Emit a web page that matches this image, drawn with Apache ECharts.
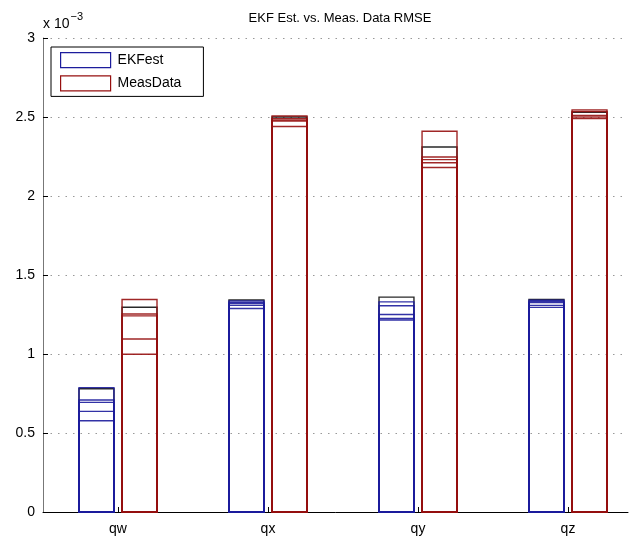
<!DOCTYPE html>
<html>
<head>
<meta charset="utf-8">
<script src="https://cdn.jsdelivr.net/npm/echarts@6/dist/echarts.min.js"></script>
<style>
  html, body { margin: 0; padding: 0; background: #fff; }
  #main { width: 638px; height: 540px; }
</style>
</head>
<body>
<div id="main"></div>
<script>
// values in units of 1e-3, one inner array per category (several runs overlaid)
const categories = ["qw", "qx", "qy", "qz"];
const ekfEst = [
  [0.78, 0.787, 0.709, 0.694, 0.637, 0.578],
  [1.342, 1.336, 1.328, 1.32, 1.308, 1.288],
  [1.36, 1.33, 1.305, 1.25, 1.225, 1.215],
  [1.345, 1.34, 1.333, 1.325, 1.308, 1.295],
];
const measData = [
  [1.296, 1.345, 1.253, 1.241, 1.095, 0.998],
  [2.5, 2.506, 2.489, 2.48, 2.475, 2.44],
  [2.31, 2.41, 2.247, 2.23, 2.21, 2.18],
  [2.53, 2.545, 2.535, 2.51, 2.5, 2.49],
];
const yTicks = [0, 0.5, 1, 1.5, 2, 2.5, 3];

const blue = "#1c1c9c";
const red = "#960f0f";

const chart = echarts.init(document.getElementById("main"));

function toData(groups) {
  const out = [];
  groups.forEach((runs, i) => {
    runs.forEach((v, r) => out.push([i + 1, v, r]));
  });
  return out;
}

function barRender(left, right, color) {
  return function (params, api) {
    const x = api.value(0);
    const v = api.value(1);
    const run = api.value(2);
    const p0 = api.coord([x + left, v]);
    const p1 = api.coord([x + right, 0]);
    return {
      type: "rect",
      shape: { x: p0[0], y: p0[1], width: p1[0] - p0[0], height: p1[1] - p0[1] },
      style: { fill: "none", stroke: run === 0 ? "#111" : color, lineWidth: 1.4, opacity: 0.9 },
    };
  };
}

const option = {
  backgroundColor: "#fff",
  animation: false,
  title: {
    text: "EKF Est. vs. Meas. Data RMSE",
    left: 335,
    textAlign: "center",
    top: 7,
    textStyle: { fontFamily: "Liberation Sans", fontSize: 13, fontWeight: "normal", color: "#000" },
  },
  grid: { left: 43, right: 10, top: 38, bottom: 28 },
  legend: {
    left: 51,
    top: 47,
    orient: "vertical",
    itemWidth: 50,
    itemHeight: 15,
    itemGap: 7,
    padding: [5, 22, 5, 9],
    borderColor: "#000",
    borderWidth: 1,
    backgroundColor: "#fff",
    textStyle: { fontFamily: "Liberation Sans", fontSize: 14, color: "#000", padding: [0, 0, 0, 2] },
    data: [
      { name: "EKFest", icon: "rect", itemStyle: { color: "#fff", borderColor: blue, borderWidth: 1.2 } },
      { name: "MeasData", icon: "rect", itemStyle: { color: "#fff", borderColor: red, borderWidth: 1.2 } },
    ],
  },
  graphic: [
    {
      type: "text",
      left: 43,
      top: 11,
      style: {
        text: "{a|x 10}{b|−3}",
        rich: {
          a: { fontFamily: "Liberation Sans", fontSize: 14, fill: "#000", padding: [8, 0, 0, 0] },
          b: { fontFamily: "Liberation Sans", fontSize: 11, fill: "#000", padding: [0, 0, 8, 1] },
        },
      },
    },
  ],
  xAxis: {
    type: "value",
    min: 0.5,
    max: 4.4,
    axisLine: { show: true, onZero: false, lineStyle: { color: "#000", width: 1 } },
    axisTick: { show: true, inside: true, length: 5, customValues: [1, 2, 3, 4], lineStyle: { color: "#000" } },
    axisLabel: {
      customValues: [1, 2, 3, 4],
      formatter: (v) => categories[Math.round(v) - 1] || "",
      fontFamily: "Liberation Sans",
      fontSize: 14,
      color: "#000",
      margin: 10,
    },
    splitLine: { show: false },
  },
  yAxis: {
    type: "value",
    min: 0,
    max: 3,
    interval: 0.5,
    axisLine: { show: true, lineStyle: { color: "#777", width: 1 } },
    axisTick: { show: true, inside: true, length: 5, lineStyle: { color: "#000" } },
    axisLabel: {
      formatter: (v) => (yTicks.includes(v) ? String(v) : ""),
      fontFamily: "Liberation Sans",
      fontSize: 14,
      color: "#000",
      margin: 8,
    },
    splitLine: { show: true, lineStyle: { color: "#999", type: [1.5, 6], width: 1 } },
  },
  series: [
    {
      name: "EKFest",
      type: "custom",
      renderItem: barRender(-0.26, -0.027, blue),
      encode: { x: 0, y: 1 },
      itemStyle: { color: "#fff", borderColor: blue },
      data: toData(ekfEst),
    },
    {
      name: "MeasData",
      type: "custom",
      renderItem: barRender(0.027, 0.26, red),
      encode: { x: 0, y: 1 },
      itemStyle: { color: "#fff", borderColor: red },
      data: toData(measData),
    },
  ],
};

chart.setOption(option);
</script>
</body>
</html>
